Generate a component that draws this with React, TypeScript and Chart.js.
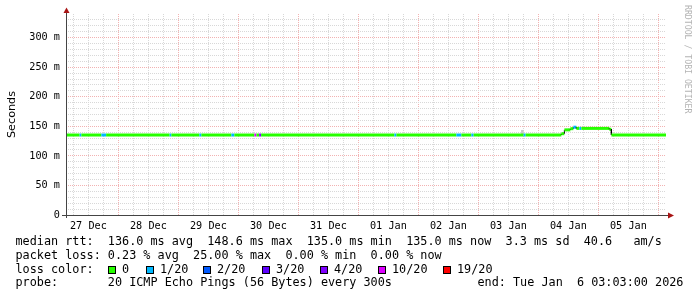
import React, { useEffect, useRef } from 'react';
import { Chart, registerables } from 'chart.js';

Chart.register(...registerables);

// ---------------- data ----------------
// Hours are counted from 27 Dec 2025 00:00.
const startHour = 3.05; // Sat 27 Dec 03:03
const endHour = 243.05; // Tue 06 Jan 03:03

const dayLabels = ['27 Dec', '28 Dec', '29 Dec', '30 Dec', '31 Dec', '01 Jan', '02 Jan', '03 Jan', '04 Jan', '05 Jan'];
const yMax = 340;
const yLabelValues = [0, 50, 100, 150, 200, 250, 300];
const yLabelTexts = ['0', '50 m', '100 m', '150 m', '200 m', '250 m', '300 m'];

// median rtt (ms), each level holds from its start hour until the next one
const rttStartHours = [3.05, 201.2, 202.4, 204.8, 206.0, 207.2, 220.4, 221.2];
const rttMs = [135.3, 137.5, 144.0, 146.0, 148.5, 146.5, 145.0, 135.3];

// packet loss episodes (lost pings out of 20)
const lossStartHours = [8.5, 17.2, 44.5, 56.4, 69.2, 78.4, 80.3, 134.4, 159.2, 165.2, 186.1, 206.0, 208.4];
const lossEndHours = [9.2, 19.1, 45.2, 57.2, 70.4, 79.2, 81.1, 135.2, 161.2, 166.1, 186.9, 207.2, 209.2];
const lossPings = [1, 1, 1, 1, 1, 10, 4, 1, 1, 1, 1, 1, 1];

// smoke (spread of individual pings)
const smokeHours = [185.6];
const smokeLowMs = [136.5];
const smokeHighMs = [143.3];

// loss colour classes
const lossClassLabels = ['0', '1/20', '2/20', '3/20', '4/20', '10/20', '19/20'];
const lossClassMin = [0, 1, 2, 3, 4, 10, 19];
const lossClassColors = ['#26ff00', '#00b8ff', '#0059ff', '#5e00ff', '#7e00ff', '#dd00ff', '#ff0000'];

// legend texts
const legendLine1 = 'median rtt:  136.0 ms avg  148.6 ms max  135.0 ms min  135.0 ms now  3.3 ms sd  40.6   am/s';
const legendLine2 = 'packet loss: 0.23 % avg  25.00 % max  0.00 % min  0.00 % now';
const legendLine3 = 'loss color:';
const legendLine4 = 'probe:       20 ICMP Echo Pings (56 Bytes) every 300s';
const legendEnd = 'end: Tue Jan  6 03:03:00 2026';
const watermark = 'RRDTOOL / TOBI OETIKER';

// ---------------- layout (not data) ----------------
const swatchLeft = [108, 146, 203, 262, 320, 378, 443];

// ---------------- helpers ----------------
function rttAt(h: number) {
  let v = rttMs[0];
  for (let i = 0; i < rttStartHours.length; i++) if (h >= rttStartHours[i] - 1e-9) v = rttMs[i];
  return v;
}
function lossAt(h: number) {
  for (let i = 0; i < lossStartHours.length; i++) {
    if (h >= lossStartHours[i] - 1e-9 && h < lossEndHours[i] - 1e-9) return lossPings[i];
  }
  return 0;
}
function lossColor(n: number) {
  let c = lossClassColors[0];
  for (let i = 0; i < lossClassMin.length; i++) if (n >= lossClassMin[i]) c = lossClassColors[i];
  return c;
}

function buildSeries() {
  const cutsRaw = [...rttStartHours, ...lossStartHours, ...lossEndHours, endHour]
    .filter((h) => h >= startHour && h <= endHour)
    .sort((a, b) => a - b);
  const cuts: number[] = [];
  cutsRaw.forEach((h) => {
    if (!cuts.length || Math.abs(cuts[cuts.length - 1] - h) > 1e-6) cuts.push(h);
  });
  const points: { x: number; y: number }[] = [];
  const colors: string[] = [];
  for (let k = 0; k < cuts.length - 1; k++) {
    const a = cuts[k];
    const b = cuts[k + 1];
    const v = rttAt(a);
    points.push({ x: a, y: v }, { x: b, y: v });
    colors.push(lossColor(lossAt(a)));
  }
  return { points, colors };
}

const MONO = "'DejaVu Sans Mono', monospace";
const MAJOR_GRID = '#f2b2b2';
const MINOR_GRID = '#d8d8d8';

const rrdPlugin = {
  id: 'rrdAxes',
  afterDatasetsDraw(chart: any) {
    const { ctx, chartArea: a } = chart;
    ctx.save();
    ctx.strokeStyle = '#444444';
    ctx.lineWidth = 1;
    ctx.beginPath();
    ctx.moveTo(a.left - 4, a.bottom + 0.5);
    ctx.lineTo(a.right + 2, a.bottom + 0.5);
    ctx.moveTo(a.left + 0.5, a.bottom + 3);
    ctx.lineTo(a.left + 0.5, a.top - 1);
    ctx.stroke();
    ctx.fillStyle = '#a81414';
    ctx.beginPath();
    ctx.moveTo(a.left - 2.5, a.top - 1);
    ctx.lineTo(a.left + 3.5, a.top - 1);
    ctx.lineTo(a.left + 0.5, a.top - 6.5);
    ctx.closePath();
    ctx.fill();
    ctx.beginPath();
    ctx.moveTo(a.right + 2, a.bottom - 2.5);
    ctx.lineTo(a.right + 2, a.bottom + 3.5);
    ctx.lineTo(a.right + 8, a.bottom + 0.5);
    ctx.closePath();
    ctx.fill();
    ctx.restore();
  },
  afterDraw(chart: any) {
    const { ctx } = chart;
    ctx.save();
    ctx.font = `8.2px ${MONO}`;
    ctx.fillStyle = '#b4b4b4';
    ctx.textAlign = 'left';
    ctx.textBaseline = 'middle';
    ctx.translate(687, 5);
    ctx.rotate(Math.PI / 2);
    ctx.fillText(watermark, 0, 0);
    ctx.restore();
  },
};

export default function App() {
  const ref = useRef<HTMLCanvasElement>(null);

  useEffect(() => {
    if (!ref.current) return;
    const { points, colors } = buildSeries();
    const chart = new Chart(ref.current, {
      type: 'line',
      data: {
        datasets: [
          {
            type: 'line',
            data: points,
            borderColor: lossClassColors[0],
            borderWidth: 3,
            borderCapStyle: 'butt',
            pointRadius: 0,
            tension: 0,
            order: 1,
            segment: {
              borderColor: (c: any) => (c.p0DataIndex % 2 === 0 ? colors[c.p0DataIndex / 2] : '#000000'),
              borderWidth: (c: any) => (c.p0DataIndex % 2 === 0 ? 3 : 1),
            },
          } as any,
          {
            type: 'bar',
            data: smokeHours.map((h, i) => ({ x: h, y: [smokeLowMs[i], smokeHighMs[i]] })),
            backgroundColor: '#c8c8c8',
            barThickness: 2,
            order: 2,
          } as any,
        ],
      },
      options: {
        animation: false,
        responsive: false,
        events: [],
        layout: { padding: { left: 0, right: 31, top: 14, bottom: 0 } },
        plugins: { legend: { display: false }, tooltip: { enabled: false } },
        scales: {
          x: {
            type: 'linear',
            min: startHour,
            max: endHour,
            offset: false,
            afterBuildTicks: (s: any) => {
              const t = [];
              for (let h = 6; h <= endHour; h += 6) t.push({ value: h });
              s.ticks = t;
            },
            afterFit: (s: any) => {
              s.height = 82;
            },
            grid: {
              offset: false,
              drawTicks: false,
              lineWidth: 1,
              color: (c: any) => (c.tick && c.tick.value % 24 === 0 ? MAJOR_GRID : MINOR_GRID),
            },
            border: { display: false, dash: [1, 1] },
            ticks: {
              autoSkip: false,
              maxRotation: 0,
              minRotation: 0,
              padding: 5,
              color: '#000000',
              font: { family: MONO, size: 10.2 },
              callback: (v: any) => {
                const h = Number(v);
                if (h % 24 === 12) return dayLabels[(h - 12) / 24] ?? '';
                return '';
              },
            },
          },
          y: {
            type: 'linear',
            min: 0,
            max: yMax,
            afterBuildTicks: (s: any) => {
              const t = [];
              for (let v = 0; v < yMax; v += 10) t.push({ value: v });
              s.ticks = t;
            },
            afterFit: (s: any) => {
              s.width = 66;
            },
            grid: {
              drawTicks: false,
              lineWidth: 1,
              color: (c: any) => (c.tick && c.tick.value % 50 === 0 ? MAJOR_GRID : MINOR_GRID),
            },
            border: { display: false, dash: [1, 1] },
            title: {
              display: true,
              text: 'Seconds',
              color: '#000000',
              font: { family: "'DejaVu Sans', sans-serif", size: 11.2 },
              padding: { top: 5, bottom: 0 },
            },
            ticks: {
              autoSkip: false,
              padding: 6,
              color: '#000000',
              font: { family: MONO, size: 10.2 },
              callback: (v: any) => {
                const i = yLabelValues.indexOf(Number(v));
                return i >= 0 ? yLabelTexts[i] : '';
              },
            },
          },
        },
      } as any,
      plugins: [rrdPlugin],
    });
    return () => chart.destroy();
  }, []);

  const textStyle: React.CSSProperties = {
    position: 'absolute',
    fontFamily: MONO,
    fontSize: '11.8px',
    lineHeight: '14px',
    whiteSpace: 'pre',
    color: '#000',
    margin: 0,
  };

  return (
    <div style={{ position: 'absolute', left: 0, top: 0, width: 697, height: 297, background: '#fff', overflow: 'hidden' }}>
      <canvas ref={ref} width={697} height={297} style={{ display: 'block', width: 697, height: 297 }} />
      <div style={{ ...textStyle, left: 15.5, top: 234 }}>{legendLine1}</div>
      <div style={{ ...textStyle, left: 15.5, top: 248 }}>{legendLine2}</div>
      <div style={{ ...textStyle, left: 15.5, top: 262 }}>{legendLine3}</div>
      {lossClassLabels.map((lab, i) => (
        <React.Fragment key={lab}>
          <div
            style={{
              position: 'absolute',
              left: swatchLeft[i],
              top: 266,
              width: 8,
              height: 8,
              boxSizing: 'border-box',
              border: '1px solid #000',
              background: lossClassColors[i],
            }}
          />
          <div style={{ ...textStyle, left: swatchLeft[i] + 14, top: 262 }}>{lab}</div>
        </React.Fragment>
      ))}
      <div style={{ ...textStyle, left: 15.5, top: 275 }}>{legendLine4}</div>
      <div style={{ ...textStyle, left: 477.5, top: 275 }}>{legendEnd}</div>
    </div>
  );
}
